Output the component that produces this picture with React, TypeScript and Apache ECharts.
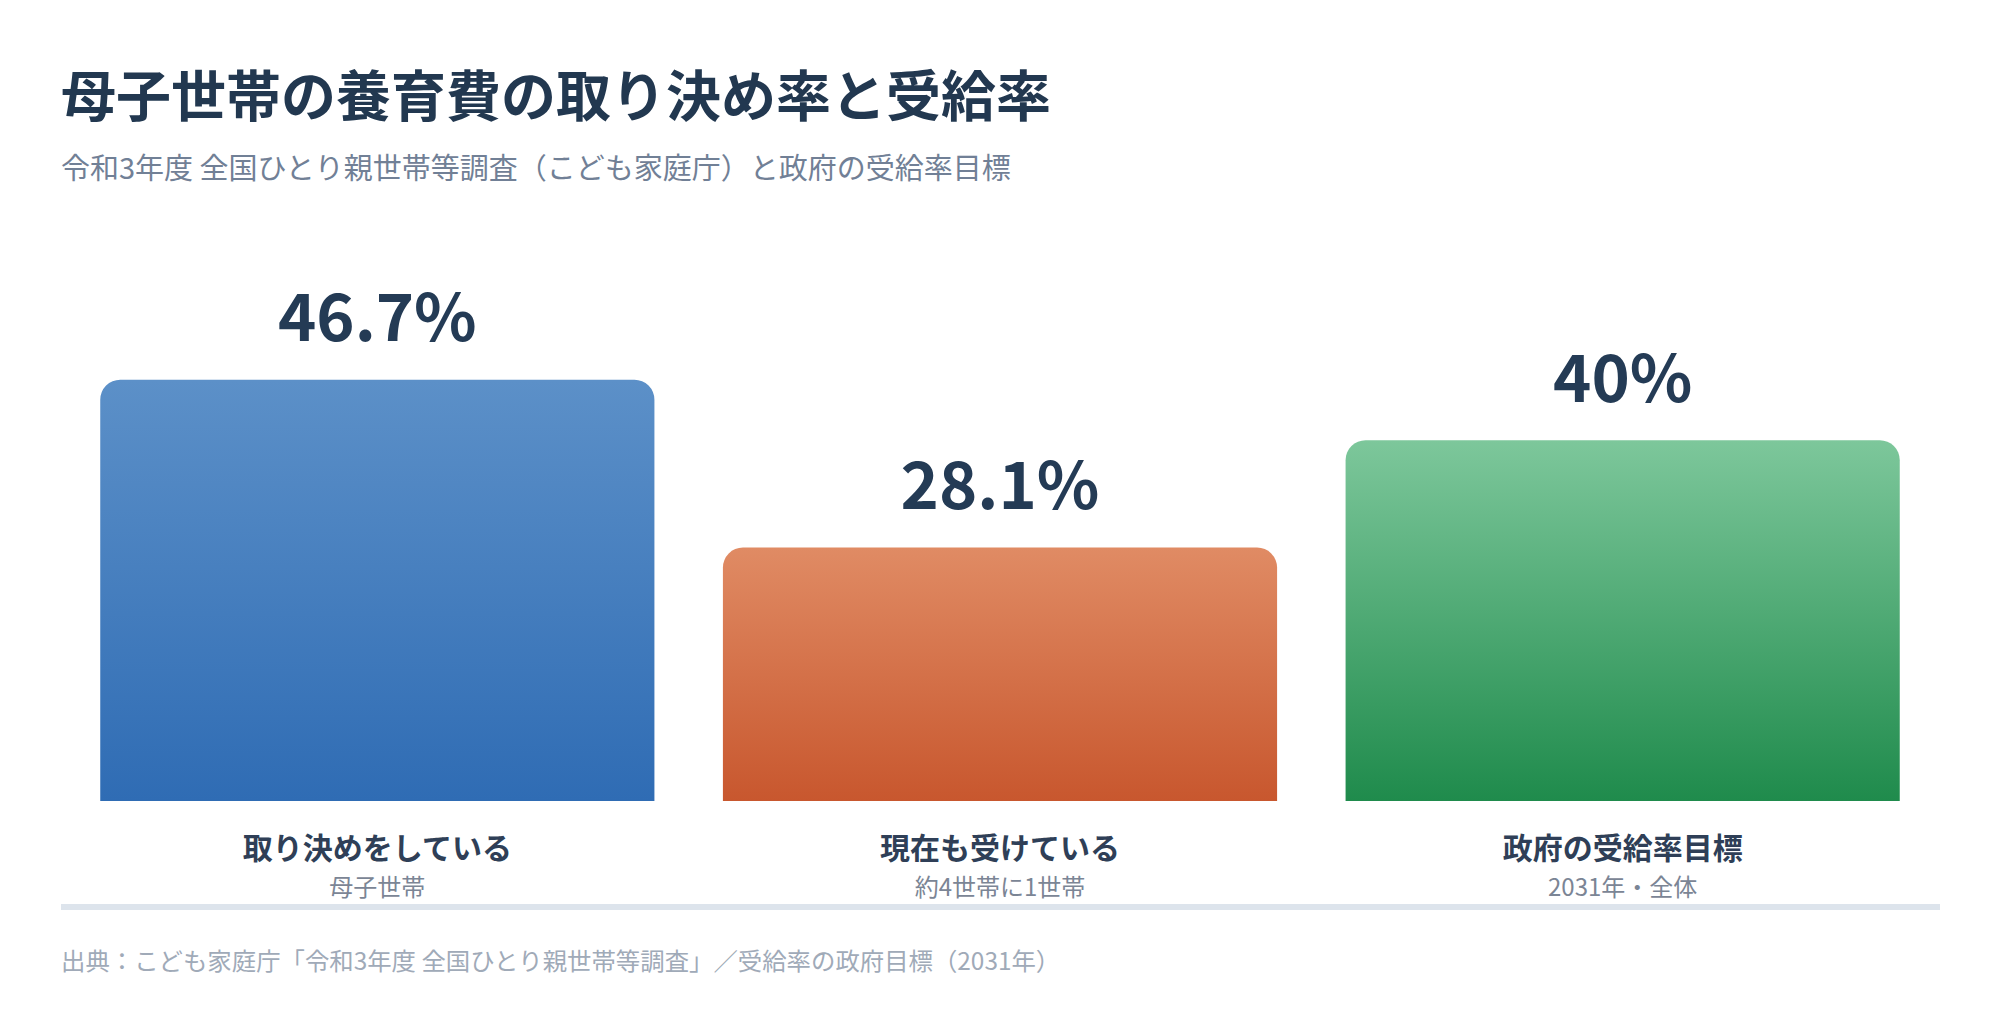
import React, { useEffect, useRef } from "react";
import * as echarts from "echarts";

const categories = ["取り決めをしている", "現在も受けている", "政府の受給率目標"];
const subLabels = ["母子世帯", "約4世帯に1世帯", "2031年・全体"];
const values = [46.7, 28.1, 40];
const valueLabels = ["46.7%", "28.1%", "40%"];
const topColors = ["#5c90c8", "#e08b64", "#7dc79b"];
const bottomColors = ["#2f6cb4", "#c8572e", "#1f8b4c"];

const titleText = "母子世帯の養育費の取り決め率と受給率";
const subtitleText = "令和3年度 全国ひとり親世帯等調査（こども家庭庁）と政府の受給率目標";
const footerText = "出典：こども家庭庁「令和3年度 全国ひとり親世帯等調査」／受給率の政府目標（2031年）";

const FONT = '"Noto Sans CJK JP", "Noto Sans", sans-serif';

export default function App() {
  const ref = useRef<HTMLDivElement>(null);
  useEffect(() => {
    document.body.style.margin = "0";
    const chart = echarts.init(ref.current!, null, { renderer: "svg" });
    chart.setOption({
      animation: false,
      backgroundColor: "#ffffff",
      textStyle: { fontFamily: FONT },
      title: [
        {
          text: titleText,
          left: 56,
          top: 57,
          textStyle: { fontSize: 55, fontWeight: "bold", color: "#223850", fontFamily: FONT, lineHeight: 60 },
        },
        {
          text: subtitleText,
          left: 56,
          top: 143,
          textStyle: { fontSize: 29, fontWeight: "normal", color: "#718096", fontFamily: FONT, lineHeight: 36 },
        },
        {
          text: footerText,
          left: 56,
          top: 938,
          textStyle: { fontSize: 24.4, fontWeight: "normal", color: "#a0aab8", fontFamily: FONT, lineHeight: 32 },
        },
      ],
      grid: { left: 66, right: 66, top: 350, bottom: 233, containLabel: false },
      xAxis: {
        type: "category",
        data: categories,
        axisLine: { show: false },
        axisTick: { show: false },
        axisLabel: {
          margin: 25,
          interval: 0,
          formatter: (v: string, i: number) => `{name|${v}}\n{sub|${subLabels[i]}}`,
          rich: {
            name: { fontSize: 30, fontWeight: "bold", color: "#2f3f57", lineHeight: 40, fontFamily: FONT },
            sub: { fontSize: 24, color: "#7b8595", lineHeight: 39, fontFamily: FONT },
          },
        },
      },
      yAxis: { type: "value", min: 0, max: 50, show: false, splitLine: { show: false } },
      series: [
        {
          type: "bar",
          barCategoryGap: "11%",
          data: values.map((v, i) => ({
            value: v,
            itemStyle: {
              borderRadius: [20, 20, 0, 0],
              color: new echarts.graphic.LinearGradient(0, 0, 0, 1, [
                { offset: 0, color: topColors[i] },
                { offset: 1, color: bottomColors[i] },
              ]),
            },
            label: { formatter: valueLabels[i] },
          })),
          label: {
            show: true,
            position: "top",
            distance: 34,
            fontSize: 65,
            fontWeight: "bold",
            color: "#243b55",
            fontFamily: FONT,
          },
        },
      ],
      graphic: [
        {
          type: "rect",
          shape: { x: 61, y: 904, width: 1879, height: 6 },
          style: { fill: "#dde4ec" },
          silent: true,
        },
      ],
    });
    return () => chart.dispose();
  }, []);
  return <div ref={ref} style={{ width: 2000, height: 1034 }} />;
}
